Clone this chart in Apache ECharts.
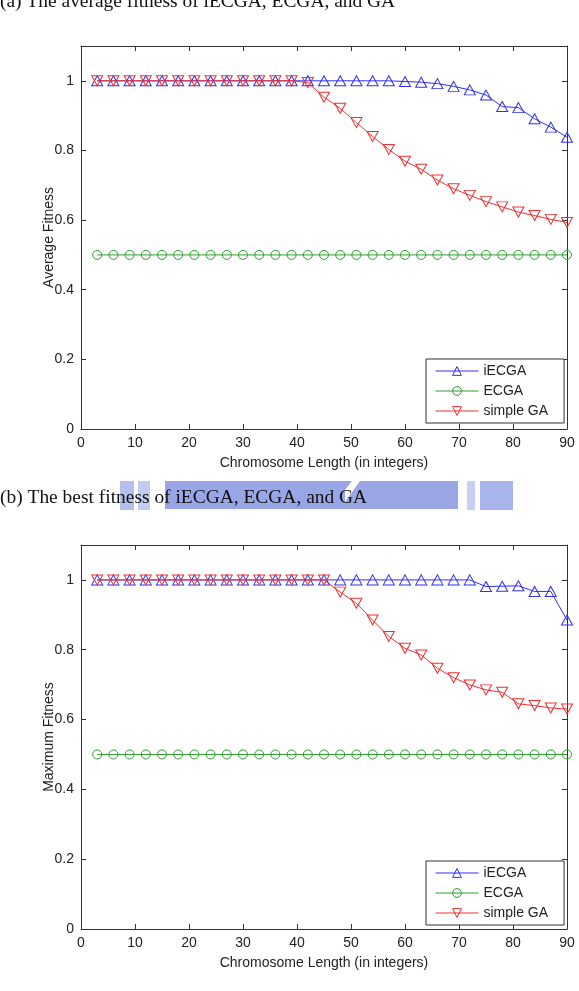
<!DOCTYPE html>
<html>
<head>
<meta charset="utf-8">
<script src="https://cdn.jsdelivr.net/npm/echarts@6/dist/echarts.min.js"></script>
<style>
html,body{margin:0;padding:0;background:#fff;}
#chart{width:579px;height:991px;}
</style>
</head>
<body>
<div id="chart"></div>
<script>
// ---- data ----
const chromosomeLength = [3,6,9,12,15,18,21,24,27,30,33,36,39,42,45,48,51,54,57,60,63,66,69,72,75,78,81,84,87,90];
const avgIECGA = [1,1,1,1,1,1,1,1,1,1,1,1,1,1,1,1,1,1,1,0.998,0.996,0.992,0.984,0.974,0.959,0.926,0.923,0.891,0.867,0.838];
const avgECGA  = [0.5,0.5,0.5,0.5,0.5,0.5,0.5,0.5,0.5,0.5,0.5,0.5,0.5,0.5,0.5,0.5,0.5,0.5,0.5,0.5,0.5,0.5,0.5,0.5,0.5,0.5,0.5,0.5,0.5,0.5];
const avgGA    = [1,1,1,1,1,1,1,1,1,1,1,1,1,0.995,0.953,0.921,0.880,0.840,0.803,0.769,0.746,0.715,0.690,0.671,0.653,0.638,0.623,0.613,0.602,0.593];
const maxIECGA = [1,1,1,1,1,1,1,1,1,1,1,1,1,1,1,1,1,1,1,1,1,1,1,1,0.981,0.982,0.983,0.967,0.967,0.885];
const maxECGA  = [0.5,0.5,0.5,0.5,0.5,0.5,0.5,0.5,0.5,0.5,0.5,0.5,0.5,0.5,0.5,0.5,0.5,0.5,0.5,0.5,0.5,0.5,0.5,0.5,0.5,0.5,0.5,0.5,0.5,0.5];
const maxGA    = [1,1,1,1,1,1,1,1,1,1,1,1,1,1,1,0.965,0.933,0.885,0.838,0.804,0.785,0.747,0.720,0.699,0.685,0.678,0.645,0.640,0.633,0.630];
const seriesNames = ['iECGA','ECGA','simple GA'];
const yAxisNames = ['Average Fitness','Maximum Fitness'];
const xAxisName = 'Chromosome Length (in integers)';
const titles = ['(a) The average fitness of iECGA, ECGA, and GA','(b) The best fitness of iECGA, ECGA, and GA'];

// ---- styling ----
const FONT = 'Liberation Sans, Arial, sans-serif';
const AX = '#333';
const COLORS = ['#3030f0','#2e9e2e','#f03030'];
const SYMBOLS = ['triangle','circle','triangle'];
const ROT = [0,0,180];
const SIZES = [[11,10],[9,9],[11,10]];

const grids = [
  {left:81, right:12, top:46, height:383},
  {left:81, right:12, top:545, height:384}
];

const xAxes = [], yAxes = [];
grids.forEach((g,i)=>{
  xAxes.push({
    type:'value', gridIndex:i, position:'bottom', min:0, max:90, interval:10,
    name:xAxisName, nameLocation:'middle', nameGap:27, nameMoveOverlap:false,
    nameTextStyle:{fontFamily:FONT, fontSize:14, color:'#222'},
    axisLine:{show:true, lineStyle:{color:AX, width:1}},
    axisTick:{show:true, inside:true, length:5, lineStyle:{color:AX}},
    axisLabel:{fontFamily:FONT, fontSize:14, color:'#222', margin:7},
    splitLine:{show:false}
  });
  xAxes.push({
    type:'value', gridIndex:i, position:'top', min:0, max:90, interval:10,
    axisLine:{show:true, onZero:false, lineStyle:{color:AX, width:1}},
    axisTick:{show:true, inside:true, length:5, lineStyle:{color:AX}},
    axisLabel:{show:false}, splitLine:{show:false}
  });
  yAxes.push({
    type:'value', gridIndex:i, position:'left', min:0, max:1.1, interval:0.2,
    name:yAxisNames[i], nameLocation:'middle', nameGap:25, nameMoveOverlap:false,
    nameTextStyle:{fontFamily:FONT, fontSize:14, color:'#222'},
    axisLine:{show:true, lineStyle:{color:AX, width:1}},
    axisTick:{show:true, inside:true, length:5, lineStyle:{color:AX}},
    axisLabel:{fontFamily:FONT, fontSize:14, color:'#222', margin:7, showMaxLabel:false,
      formatter:v=> (v>1.05? '' : String(Math.round(v*10)/10))},
    splitLine:{show:false}
  });
  yAxes.push({
    type:'value', gridIndex:i, position:'right', min:0, max:1.1, interval:0.2,
    axisLine:{show:true, onZero:false, lineStyle:{color:AX, width:1}},
    axisTick:{show:true, inside:true, length:5, lineStyle:{color:AX}},
    axisLabel:{show:false}, splitLine:{show:false}
  });
});

const panels = [[avgIECGA, avgECGA, avgGA],[maxIECGA, maxECGA, maxGA]];
const series = [];
panels.forEach((vals,p)=>{
  vals.forEach((arr,k)=>{
    series.push({
      type:'line', name:seriesNames[k],
      xAxisIndex:p*2, yAxisIndex:p*2,
      data: chromosomeLength.map((x,j)=>[x, arr[j]]),
      symbol:SYMBOLS[k], symbolRotate:ROT[k], symbolSize:SIZES[k],
      showAllSymbol:true,
      lineStyle:{color:COLORS[k], width:1},
      itemStyle:{color:'rgba(255,255,255,0)', borderColor:COLORS[k], borderWidth:1},
      emphasis:{disabled:true},
      animation:false, z: 2
    });
  });
});

const legends = [
  {top:359, left:426},
  {top:861, left:426}
].map(pos=>({
  ...pos, orient:'vertical', data:seriesNames,
  backgroundColor:'#fff', borderColor:AX, borderWidth:1, borderRadius:0,
  padding:[4,16,4,9], itemGap:4, itemWidth:43, itemHeight:11,
  lineStyle:{width:1},
  itemStyle:{borderWidth:1},
  textStyle:{fontFamily:FONT, fontSize:14, color:'#222', lineHeight:16},
  selectedMode:false
}));

const TFONT = '18px "Liberation Serif", serif';
const graphic = [
  {type:'rect', shape:{x:120,y:481,width:14,height:29}, style:{fill:'#b4bfee'}, z:-1},
  {type:'rect', shape:{x:138,y:481,width:12,height:29}, style:{fill:'#c2cbf0'}, z:-1},
  {type:'rect', shape:{x:165,y:481,width:180,height:28}, style:{fill:'#98a6e6'}, z:-1},
  {type:'polygon', shape:{points:[[345,481],[352,481],[330,509],[345,509]]}, style:{fill:'#98a6e6'}, z:-1},
  {type:'polygon', shape:{points:[[360,481],[458,481],[458,509],[340,509]]}, style:{fill:'#98a6e6'}, z:-1},
  {type:'rect', shape:{x:467,y:481,width:8,height:29}, style:{fill:'#c8cff2'}, z:-1},
  {type:'rect', shape:{x:480,y:481,width:33,height:29}, style:{fill:'#a9b5ea'}, z:-1},
  {type:'text', x:0, y:-7, scaleX:1.08, style:{text:titles[0], font:TFONT, fill:'#111'}, z:5},
  {type:'text', x:0, y:489, scaleX:1.08, style:{text:titles[1], font:TFONT, fill:'#111'}, z:5}
];

const chart = echarts.init(document.getElementById('chart'), null, {renderer:'canvas'});
chart.setOption({
  animation:false,
  backgroundColor:'#fff',
  grid:grids, xAxis:xAxes, yAxis:yAxes, series:series, legend:legends, graphic:graphic
});
</script>
</body>
</html>
